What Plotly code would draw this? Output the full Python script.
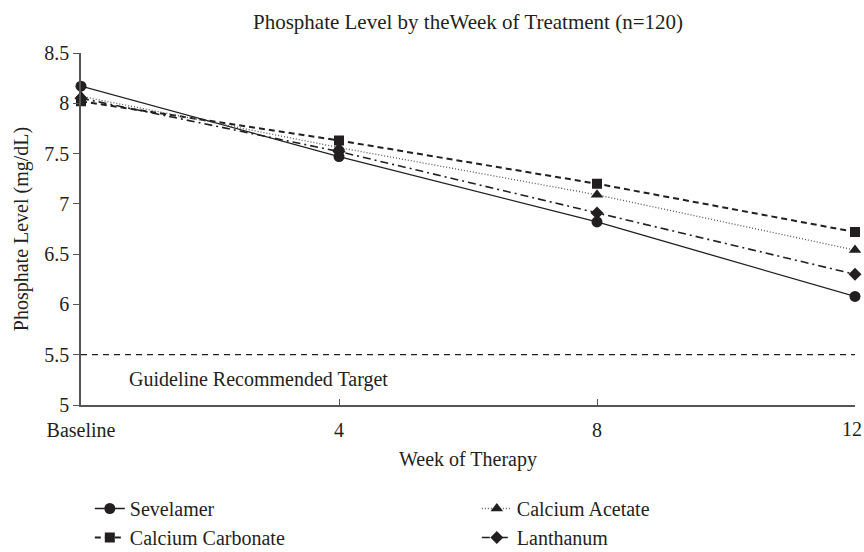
import plotly.graph_objects as go

weeks = [0, 4, 8, 12]
week_labels = ["Baseline", "4", "8", "12"]
y_ticks = [5, 5.5, 6, 6.5, 7, 7.5, 8, 8.5]
y_tick_labels = ["5", "5.5", "6", "6.5", "7", "7.5", "8", "8.5"]
sevelamer = [8.17, 7.47, 6.82, 6.08]
calcium_carbonate = [8.02, 7.63, 7.20, 6.72]
calcium_acetate = [8.07, 7.56, 7.09, 6.54]
lanthanum = [8.05, 7.52, 6.91, 6.30]
target = 5.5

ink = "#231f20"
font_family = "Liberation Serif, DejaVu Serif, serif"
fs = 20

fig = go.Figure()
series = [
    ("Sevelamer", sevelamer, "solid", "circle", 1.3, ink, 1, 11),
    ("Calcium Carbonate", calcium_carbonate, "6px,4px", "square", 2.0, ink, 3, 10),
    ("Calcium Acetate", calcium_acetate, "1px,2px", "triangle-up", 1.3, "#555555", 2, 11),
    ("Lanthanum", lanthanum, "8px,4px,2px,4px", "diamond", 1.6, ink, 4, 10),
]
for name, vals, dash, sym, w, col, rank, ms in series:
    fig.add_trace(go.Scatter(
        x=weeks, y=vals, name=name, mode="lines+markers",
        line=dict(color=col, width=w, dash=dash),
        marker=dict(symbol=sym, size=ms, color=ink),
        legendrank=rank, cliponaxis=False,
    ))

fig.add_trace(go.Scatter(
    x=[weeks[0], weeks[-1]], y=[target, target], mode="lines",
    line=dict(color=ink, width=1.2, dash="6px,5px"), showlegend=False,
    hoverinfo="skip",
))

fig.add_annotation(
    x=0.71, y=5.25, xref="x", yref="y", text="Guideline Recommended Target",
    showarrow=False, xanchor="left", font=dict(size=fs, color=ink, family=font_family),
)

# last tick label sits at the right edge; draw it right-aligned so it stays inside the page
fig.add_annotation(
    x=weeks[-1], y=0, xref="x", yref="paper", text=week_labels[-1],
    showarrow=False, xanchor="right", yanchor="middle", xshift=9, yshift=-24,
    font=dict(size=fs, color=ink, family=font_family),
)

fig.update_layout(
    width=864, height=552,
    paper_bgcolor="white", plot_bgcolor="white",
    margin=dict(l=81, r=9, t=53, b=147, autoexpand=False),
    font=dict(family=font_family, color=ink, size=fs),
    title=dict(text="Phosphate Level by theWeek of Treatment (n=120)", x=0.5, xanchor="center",
               xref="paper", yref="container", y=0.96, yanchor="middle",
               font=dict(size=21, color=ink, family=font_family)),
    showlegend=True,
    legend=dict(orientation="h", x=0.0114, xanchor="left", yref="container",
                y=(552 - 489) / 552, yanchor="top",
                entrywidth=342, entrywidthmode="pixels", tracegroupgap=0,
                font=dict(size=fs, color=ink, family=font_family), traceorder="normal"),
)

tick_text = week_labels[:-1] + [""]
fig.update_xaxes(
    range=[0, 12], tickvals=weeks, ticktext=tick_text, automargin=False,
    showline=True, linecolor="#555555", linewidth=1.5,
    ticks="inside", ticklen=6, tickcolor="#555555", showgrid=False, zeroline=False,
    ticklabelstandoff=6,
    title=dict(text="Week of Therapy", font=dict(size=fs), standoff=12),
    tickfont=dict(size=fs),
)
fig.update_yaxes(
    range=[5, 8.5], tickvals=y_ticks, ticktext=y_tick_labels, automargin=False,
    showline=True, linecolor="#555555", linewidth=1.5,
    ticks="outside", ticklen=6, tickcolor="#555555", showgrid=False, zeroline=False,
    title=dict(text="Phosphate Level (mg/dL)", font=dict(size=fs), standoff=10),
    tickfont=dict(size=fs),
)

fig.write_html("out.html", config={"displayModeBar": False},
               post_script="document.body.style.margin='0';")
